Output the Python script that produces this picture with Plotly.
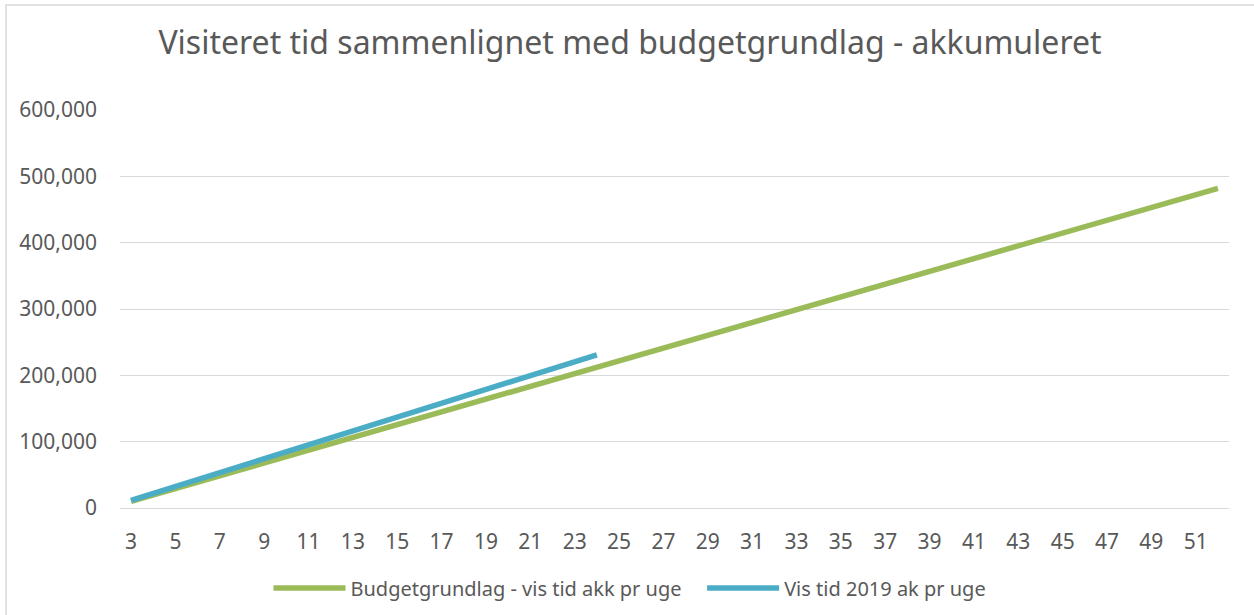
import plotly.graph_objects as go

weeks = list(range(3, 53))
budget = [10000, 19600, 29300, 38900, 48500, 58200, 67800, 77400, 87000, 96700,
          106300, 115900, 125600, 135200, 144800, 154500, 164100, 173700, 183300, 193000,
          202600, 212200, 221900, 231500, 241100, 250700, 260400, 270000, 279600, 289300,
          298900, 308500, 318200, 327800, 337400, 347000, 356700, 366300, 375900, 385600,
          395200, 404800, 414500, 424100, 433700, 443300, 453000, 462600, 472200, 481900]
weeks_2019 = list(range(3, 25))
actual_2019 = [11500, 22000, 32600, 43200, 53800, 64500, 75100, 85700, 96300, 106800,
               117300, 127800, 138300, 148700, 159100, 169500, 180000, 190300, 200500, 210700,
               220800, 231000]
x_ticks = list(range(3, 52, 2))
y_ticks = [0, 100000, 200000, 300000, 400000, 500000, 600000]

FONT = "Noto Sans"
GREY = "#595959"

# plot area in pixels
L, R, T, B = 120, 25, 110, 107
PW, PH = 1254 - L - R, 615 - T - B

fig = go.Figure()
fig.add_trace(go.Scatter(x=weeks, y=budget, mode="lines",
                         name="Budgetgrundlag - vis tid akk pr uge\u00a0\u00a0\u00a0",
                         line=dict(color="#9BBB59", width=5.5)))
fig.add_trace(go.Scatter(x=weeks_2019, y=actual_2019, mode="lines", name="Vis tid 2019 ak pr uge",
                         line=dict(color="#4BACC6", width=5.5)))

fig.update_layout(
    width=1254, height=615,
    paper_bgcolor="white", plot_bgcolor="white",
    margin=dict(l=L, r=R, t=T, b=B, autoexpand=False),
    font=dict(family=FONT, color=GREY, size=20),
    title=dict(text="Visiteret tid sammenlignet med budgetgrundlag - akkumuleret",
               x=630 / 1254, xanchor="center", y=0.930, yanchor="middle",
               font=dict(size=32, color=GREY, family=FONT)),
    showlegend=True,
    legend=dict(orientation="h", x=(630 - L) / PW, xanchor="center",
                y=(-(588 - (615 - B))) / PH, yanchor="middle",
                font=dict(size=20, color=GREY), itemwidth=72),
    xaxis=dict(range=[2.5, 52.5], tickvals=x_ticks, showgrid=False, showline=True,
               linecolor="#d9d9d9", linewidth=1, ticks="", ticklabelstandoff=15,
               zeroline=False, tickfont=dict(size=21), automargin=False),
    yaxis=dict(range=[0, 600000], tickvals=y_ticks, tickformat=",d", showgrid=True,
               gridcolor="#d9d9d9", gridwidth=1, zeroline=False, showline=False,
               ticks="", ticklabelstandoff=22, tickfont=dict(size=21), automargin=False),
    shapes=[dict(type="rect", xref="paper", yref="paper",
                 x0=(6 - L) / PW, x1=(1262 - L) / PW,
                 y0=-(625 - (615 - B)) / PH, y1=((615 - B) - 5) / PH,
                 line=dict(color="#d9d9d9", width=1.5), fillcolor="rgba(0,0,0,0)")],
)

fig.write_html("out.html", config={"displayModeBar": False},
               post_script="document.body.style.margin='0px';document.body.style.overflow='hidden';")
